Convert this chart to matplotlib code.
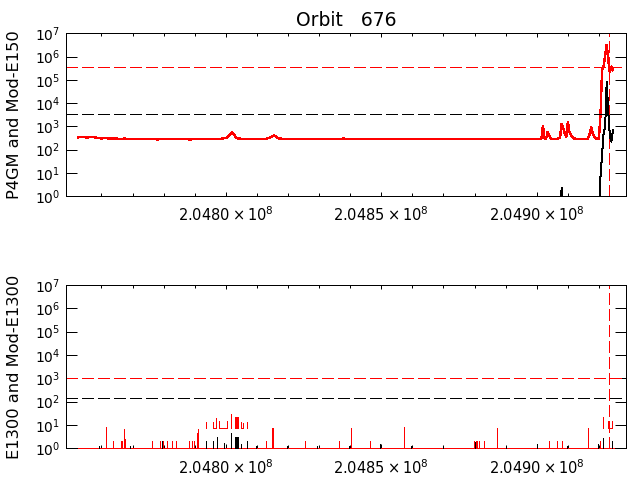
import numpy as np
import matplotlib
matplotlib.use('Agg')
import matplotlib.pyplot as plt
from matplotlib.ticker import FixedLocator, NullLocator, FuncFormatter

# ---- top panel: P4GM (red) and Mod-E150 (black) ----
p4gm_t0 = 204752500
p4gm_dt = 1500
p4gm = [335, 345, 330, 350, 320, 300, 310, 290, 300, 285, 295, 280,
        290, 275, 285, 280, 290, 270, 285, 280, 275, 290, 280, 285,
        270, 285, 280, 290, 275, 285, 280, 295, 330, 540, 310, 285,
        275, 280, 290, 285, 280, 320, 400, 300, 285, 280, 290, 275,
        285, 280, 290, 280, 275, 285, 290, 280, 285, 295, 280, 285,
        290, 280, 275, 285, 290, 280, 285, 280, 290, 275, 285, 280,
        290, 285, 280, 275, 290, 285, 280, 285, 290, 280, 275, 285,
        280, 290, 285, 275, 280, 285, 290, 280, 285, 275, 290, 280,
        285, 280, 290]

tail_t0 = 204900000
tail_dt = 500
p4gm_tail = [285, 280, 290, 300, 1050, 300, 285, 560, 400, 300,
             285, 280, 290, 285, 300, 330, 1260, 830, 500, 350,
             1500, 590, 420, 330, 300, 290, 285, 280, 290, 285,
             280, 290, 285, 300, 450, 900, 500, 350, 300, 290,
             300, 3000, 2.5e5, 3.7e5, 1.2e6, 3.2e6, 7e5, 2.2e5, 3.7e5, 2.6e5]
e150_tail = [0.1, 0.1, 0.1, 0.1, 0.1, 0.1, 0.1, 0.1, 0.1, 0.1,
             0.1, 0.1, 0.1, 0.1, 0.1, 0.1, 2.2, 0.1, 0.1, 0.1,
             0.1, 0.1, 0.1, 0.1, 0.1, 0.1, 0.1, 0.1, 0.1, 0.1,
             0.1, 0.1, 0.1, 0.1, 0.1, 0.1, 0.1, 0.1, 0.1, 0.1,
             0.1, 7, 60, 500, 900, 8e4, 4000, 400, 220, 700]

p4gm_limit = 3.7e5
e150_limit = 3.3e3

# ---- bottom panel: E1300 (red) and Mod-E1300 (black) ----
e1300_limit = 1000
mod_e1300_limit = 150

baseline_span = [204752550, 204924700]

red_spike_t = [204761550, 204763870, 204766440, 204766760, 204767340, 204767660,
               204776150, 204778820, 204779360, 204779780, 204781160, 204782770,
               204784060, 204788240, 204789110, 204789750, 204790810, 204791130,
               204812900, 204814730, 204815050, 204825440, 204836460, 204840320,
               204846430, 204857360, 204879870, 204880320, 204880640, 204881280,
               204883080, 204887260, 204903980, 204906550, 204908160, 204916640,
               204920280]
red_spike_v = [8.5, 2, 2, 2, 6.7, 2.5,
               2, 2, 2, 2, 2, 2,
               2, 2, 2, 2, 4.4, 6.7,
               2, 7.7, 7.7, 2, 2, 7.7,
               2, 8.5, 2, 2, 2, 2,
               2, 7.7, 2, 2, 2, 7.7,
               2]

comb_floor = 7.2
comb_t = [204793610, 204795950, 204796820, 204797880, 204800450, 204801640,
          204802930, 204803250, 204803570, 204803990, 204804760, 204805600,
          204806880, 204921340, 204922950, 204923270, 204924360]
comb_v = [14, 13, 19.5, 15, 15, 30,
          21, 21, 21, 21, 14, 12,
          14, 23, 15, 15, 15]
comb_start = [204795950, 204797880, 204804760, 204922950]
comb_end = [204796820, 204800450, 204805600, 204924360]

black_spike_t = [204759300, 204769170, 204779360, 204793610, 204795950, 204797240,
                 204799490, 204801640, 204802930, 204803250, 204803570, 204803990,
                 204804760, 204806690, 204809590, 204819550, 204829390, 204839580,
                 204849640, 204859610, 204869710, 204879990, 204889960, 204899930,
                 204909760, 204919730, 204921340, 204924360]
black_spike_v = [1.3, 1.3, 2, 2, 2, 3,
                 1.7, 4.4, 3.1, 3.1, 3.1, 3.1,
                 1.6, 2, 1.2, 1.2, 1.2, 1.3,
                 1.5, 1.3, 1.3, 1.9, 1.3, 1.5,
                 1.3, 1.5, 2.8, 2]

event_time = 204923100
xlim = (204748500, 204928700)
x_major = [2.0480e8, 2.0485e8, 2.0490e8]
x_minor = [2.0476e8, 2.0477e8, 2.0478e8, 2.0479e8, 2.0481e8, 2.0482e8, 2.0483e8,
           2.0484e8, 2.0486e8, 2.0487e8, 2.0488e8, 2.0489e8, 2.0491e8, 2.0492e8]

p4gm_t = p4gm_t0 + p4gm_dt * np.arange(len(p4gm))
tail_t = tail_t0 + tail_dt * np.arange(len(p4gm_tail))
top_t = np.concatenate([p4gm_t, tail_t])
top_red = np.concatenate([p4gm, p4gm_tail])
top_black = np.array(e150_tail)

LW = 0.72
dash = (0, (11, 5))
line_kw = dict(lw=LW, antialiased=False)

fig = plt.figure(figsize=(6.37, 4.80), dpi=100)
ax1 = fig.add_axes([0.1031, 0.5917, 0.8796, 0.3389])
ax2 = fig.add_axes([0.1031, 0.0660, 0.8796, 0.3402])


def xfmt(x, pos):
    return r'$%.4f\times10^{8}$' % (x / 1e8)


for ax in (ax1, ax2):
    ax.set_yscale('log')
    ax.set_ylim(1, 1e7)
    ax.set_xlim(*xlim)
    ax.yaxis.set_major_locator(FixedLocator([10.0 ** k for k in range(8)]))
    ax.yaxis.set_minor_locator(NullLocator())
    ax.xaxis.set_major_locator(FixedLocator(x_major))
    ax.xaxis.set_minor_locator(FixedLocator(x_minor))
    ax.xaxis.set_major_formatter(FuncFormatter(xfmt))
    ax.tick_params(axis='both', which='both', direction='in', top=True, right=True,
                   width=LW, colors='black')
    ax.tick_params(axis='y', which='major', length=8, pad=4, labelsize=10)
    ax.tick_params(axis='x', which='major', length=3.1, pad=7, labelsize=10.5)
    ax.tick_params(axis='x', which='minor', length=1.9)
    for sp in ax.spines.values():
        sp.set_linewidth(LW)
    ax.axvline(event_time, color='red', ls=dash, **line_kw)
    ax.yaxis.set_label_coords(-0.078, 0.5)

# top panel
ax1.plot(tail_t, top_black, color='black', **line_kw)
ax1.plot(top_t, top_red, color='red', lw=1.0, antialiased=False)
ax1.axhline(p4gm_limit, color='red', ls=dash, **line_kw)
ax1.axhline(e150_limit, color='black', ls=dash, **line_kw)
ax1.set_ylabel('P4GM and Mod-E150', fontsize=11.7)

# bottom panel
ax2.plot(baseline_span, [1, 1], color='red', clip_on=False, zorder=3, **line_kw)
ax2.vlines(red_spike_t, 1, red_spike_v, color='red', **line_kw)
ax2.vlines(comb_t, comb_floor, comb_v, color='red', **line_kw)
ax2.hlines([comb_floor] * len(comb_start), comb_start, comb_end, color='red', **line_kw)
ax2.vlines(black_spike_t, 1, black_spike_v, color='black', zorder=3.5, clip_on=False,
           **line_kw)
ax2.axhline(e1300_limit, color='red', ls=dash, **line_kw)
ax2.axhline(mod_e1300_limit, color='black', ls=dash, **line_kw)
ax2.set_ylabel('E1300 and Mod-E1300', fontsize=11.7)

fig.text(0.5432, 1 - 20 / 480, 'Orbit   676', ha='center', va='center', fontsize=13.5)

fig.savefig('out.png', dpi=100)
